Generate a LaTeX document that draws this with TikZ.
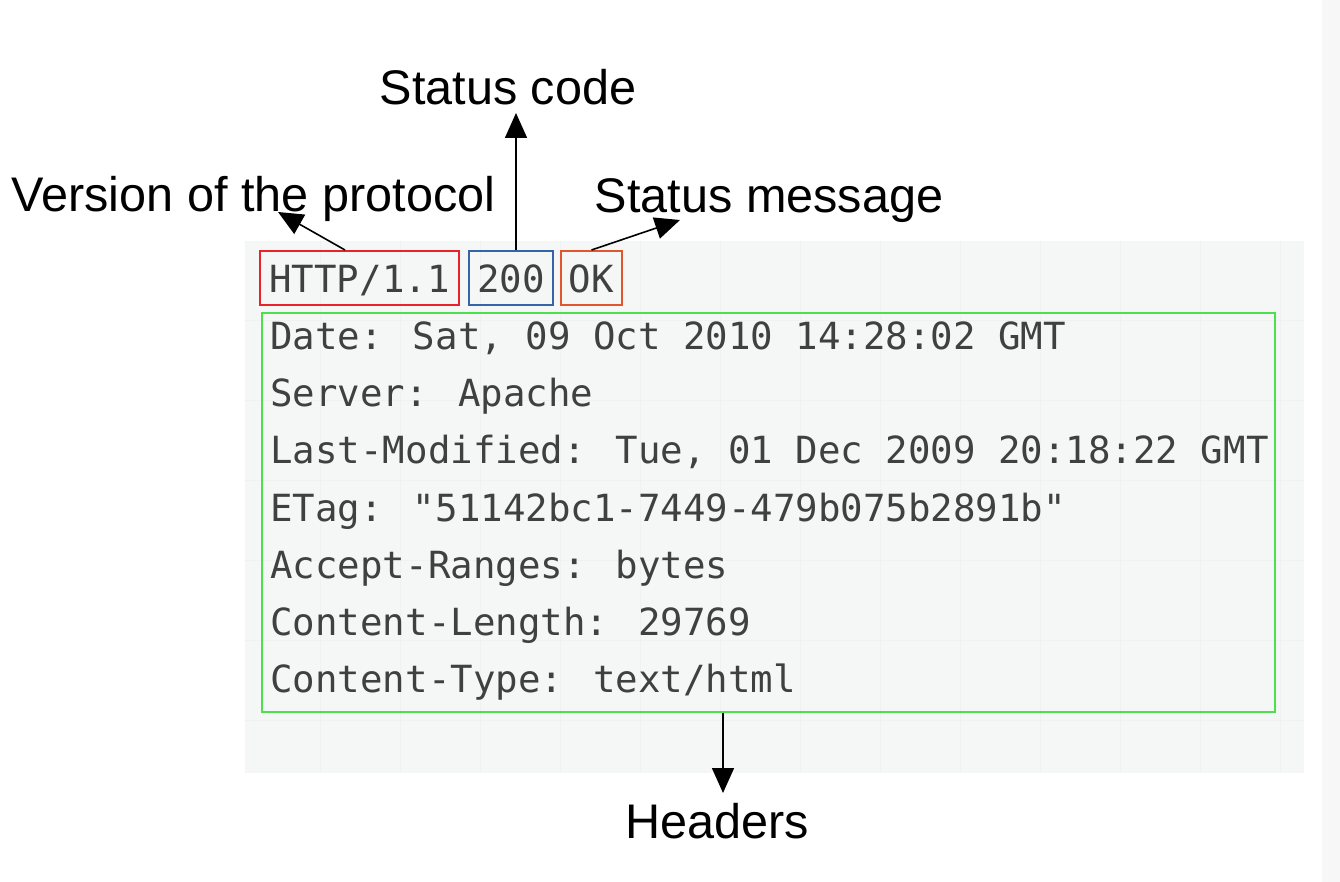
\documentclass[tikz,border=0pt]{standalone}
\usepackage{fontspec}
\usepackage{xcolor}
\setmainfont{Liberation Sans}
\newfontfamily\codefont{DejaVu Sans Mono}
\usetikzlibrary{arrows.meta}

\definecolor{panelgray}{HTML}{F5F6F6}
\definecolor{gridgray}{HTML}{F0F1F1}
\definecolor{codegray}{HTML}{404040}
\definecolor{versionred}{HTML}{E8232B}
\definecolor{codeblue}{HTML}{3564A8}
\definecolor{msgred}{HTML}{E2552E}
\definecolor{headgreen}{HTML}{4CE04C}

\begin{document}
\begin{tikzpicture}[x=0.5pt,y=-0.5pt,
    callout/.style={anchor=base,inner sep=0pt,font=\fontsize{24.3}{28}\selectfont},
    codeline/.style={anchor=base west,inner sep=0pt,text=codegray,font=\codefont\fontsize{18.7}{22}\selectfont},
    part/.style={draw,line width=1pt,inner sep=0pt,minimum height=27pt,text height=15pt,text depth=0pt,
        text=codegray,font=\codefont\fontsize{18.7}{22}\selectfont},
    pointer/.style={line width=0.8pt,-{Triangle[length=12.5pt,width=11pt]}}]
                \useasboundingbox (0,0) rectangle (1340,882);
                \fill[white] (0,0) rectangle (1340,882);
                \fill[black!3] (1322,0) rectangle (1340,882);

                \fill[panelgray] (245,241) rectangle (1304,773);
                \draw[gridgray,very thin] (245,241) grid[step=40pt] (1304,773);

                \node[callout] (versionlabel) at (253.5,212) {Version of the protocol};
                \node[callout] (codelabel) at (508,105) {Status code};
                \node[callout] (msglabel) at (769,213) {Status message};
                \node[callout] (headlabel) at (717,838) {Headers};

                \node[part,draw=versionred,minimum width=99.5pt] (version) at (359.5,278) {HTTP/1.1};
                \node[part,draw=codeblue,minimum width=42pt] (code) at (511,278) {200};
                \node[part,draw=msgred,minimum width=30.5pt] (msg) at (591.5,278) {OK};
                \node[draw=headgreen,line width=1pt,minimum width=506.5pt,minimum height=199.5pt] (headbox) at (768.5,512.5) {};

                \foreach \txt [count=\i] in {{Date: Sat, 09 Oct 2010 14:28:02 GMT},{Server: Apache},
                    {Last-Modified: Tue, 01 Dec 2009 20:18:22 GMT},{ETag: "51142bc1-7449-479b075b2891b"},
                    {Accept-Ranges: bytes},{Content-Length: 29769},{Content-Type: text/html}}
                    \node[codeline] (line\i) at (270,293+57*\i) {\txt};

                \coordinate (versiontip) at (278,212);
                \coordinate (codetip) at (516,113);
                \coordinate (msgtip) at (680,220);
                \coordinate (headtip) at (723,793);

                \draw[pointer] ([xshift=-7.25pt]version.north) -- (versiontip);
                \draw[pointer] ([xshift=2.5pt]code.north) -- (codetip);
                \draw[pointer] (msg.north) -- (msgtip);
                \draw[pointer] (headbox.south -| headtip) -- (headtip);
\end{tikzpicture}
\end{document}
